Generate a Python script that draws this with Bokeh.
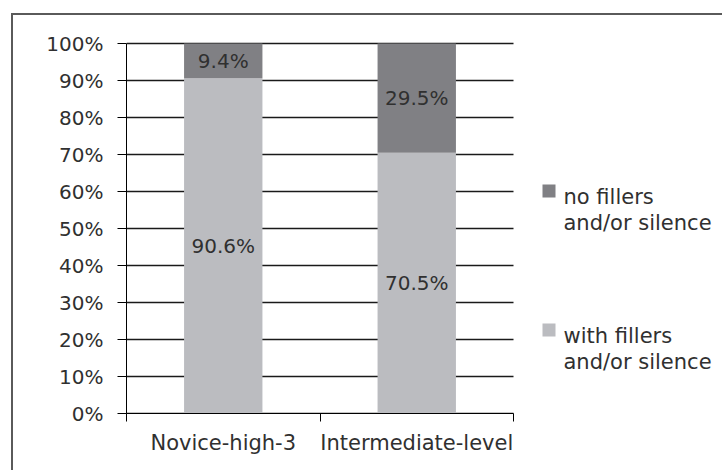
from bokeh.plotting import figure
from bokeh.models import (Range1d, FixedTicker, NumeralTickFormatter, ColumnDataSource,
                          LabelSet, Label, BoxAnnotation)
from bokeh.core.properties import value
from bokeh.embed import file_html
from bokeh.resources import INLINE

# ---- data ----
categories = ["Novice-high-3", "Intermediate-level"]
with_fillers = [0.906, 0.705]
no_fillers = [0.094, 0.295]
series_names = ["no fillers\nand/or silence", "with fillers\nand/or silence"]
y_ticks = [0, 0.1, 0.2, 0.3, 0.4, 0.5, 0.6, 0.7, 0.8, 0.9, 1.0]

DARK = "#808084"
LIGHT = "#bbbcc0"
TXT = "#303030"
GRID = "#1a1a1a"
FONT = "DejaVu Sans"

# page geometry (reference pixels); the figure sits inside a bordered box
OX, OY = 13, 15                 # canvas origin within the page (margin + 2px border)
W, H = 724 - OX, 472 - OY
PL, PR, PT, PB = 126, 513, 43, 413   # plot area (axes extents) in page px
TOPPAD = 4                          # frame extends a little above 100%

FL = PL - OX                       # frame left, canvas px
FT = PT - OY - TOPPAD               # frame top, canvas px
FB = PB - OY                        # frame bottom, canvas px
ncat = len(categories)
x_end = ncat * (W - FL) / (PR - PL)           # frame runs to the right canvas edge
y_end = 1.0 + TOPPAD / (PB - PT)


def sx(x):  # page x -> frame-relative screen x
    return x - OX - FL


def sy(y):  # page y (from top) -> frame-relative screen y (up)
    return FB - (y - OY)


xs = [i + 0.5 for i in range(ncat)]

p = figure(width=W, height=H, output_backend="svg", toolbar_location=None,
           x_range=Range1d(0, x_end), y_range=Range1d(0, y_end),
           min_border_left=FL, min_border_right=0, min_border_top=FT, min_border_bottom=H - FB)
p.margin = (13, 0, 0, 11)
p.styles = {"border-top": "2px solid #5a5a5a", "border-left": "2px solid #5a5a5a"}
p.outline_line_color = None
p.background_fill_color = "white"
p.border_fill_color = "white"
p.xgrid.grid_line_color = None
p.ygrid.grid_line_color = None

# horizontal gridlines limited to the plot area
p.segment(x0=[0] * len(y_ticks), x1=[ncat] * len(y_ticks), y0=y_ticks, y1=y_ticks,
          line_color=GRID, line_width=1.5)

src = ColumnDataSource(dict(x=xs, with_f=with_fillers, no_f=no_fillers))
p.vbar_stack(["with_f", "no_f"], x="x", width=0.405, source=src,
             color=[LIGHT, DARK], line_color=None)

# value labels
lab_src = ColumnDataSource(dict(
    x=xs + xs,
    y=[v / 2 for v in with_fillers] + [w + n / 2 for w, n in zip(with_fillers, no_fillers)],
    t=["%.1f%%" % (v * 100) for v in with_fillers] + ["%.1f%%" % (v * 100) for v in no_fillers],
))
p.add_layout(LabelSet(x="x", y="y", text="t", source=lab_src, text_align="center",
                      text_baseline="middle", text_font=value(FONT), text_font_size="20px",
                      text_color=TXT))

# y axis
p.yaxis.bounds = (0, 1)
p.yaxis.ticker = FixedTicker(ticks=y_ticks)
p.yaxis.formatter = NumeralTickFormatter(format="0%")
p.yaxis.major_tick_out = 9
p.yaxis.major_tick_in = 0
p.yaxis.minor_tick_line_color = None
p.yaxis.axis_line_color = "black"
p.yaxis.major_tick_line_color = "black"
p.yaxis.major_label_standoff = 14
p.yaxis.major_label_text_font = FONT
p.yaxis.major_label_text_font_size = "20px"
p.yaxis.major_label_text_color = TXT

# x axis: labels at category centres, ticks at boundaries
p.xaxis.bounds = (0, ncat)
p.xaxis.ticker = FixedTicker(ticks=xs, minor_ticks=list(range(ncat + 1)))
p.xaxis.major_label_overrides = {x: c for x, c in zip(xs, categories)}
p.xaxis.major_tick_line_color = None
p.xaxis.minor_tick_line_color = "black"
p.xaxis.minor_tick_out = 8
p.xaxis.minor_tick_in = 0
p.xaxis.axis_line_color = "black"
p.xaxis.major_label_standoff = 9
p.xaxis.major_label_text_font = FONT
p.xaxis.major_label_text_font_size = "21px"
p.xaxis.major_label_text_color = TXT

# legend (manual, inside the frame's right part)
leg_colors = [DARK, LIGHT]
leg_base = [196, 335]
for name, col, b in zip(series_names, leg_colors, leg_base):
    p.add_layout(BoxAnnotation(left=sx(542), right=sx(555), top=sy(b - 12), bottom=sy(b + 1),
                               left_units="screen", right_units="screen",
                               top_units="screen", bottom_units="screen",
                               fill_color=col, fill_alpha=1, line_color=None))
    for k, line in enumerate(name.split("\n")):
        p.add_layout(Label(x=sx(563), y=sy(b + 26 * k), x_units="screen", y_units="screen",
                           text=line, text_font=FONT, text_font_size="21px",
                           text_color=TXT, text_baseline="alphabetic"))

open("out.html", "w").write(file_html(p, INLINE))
